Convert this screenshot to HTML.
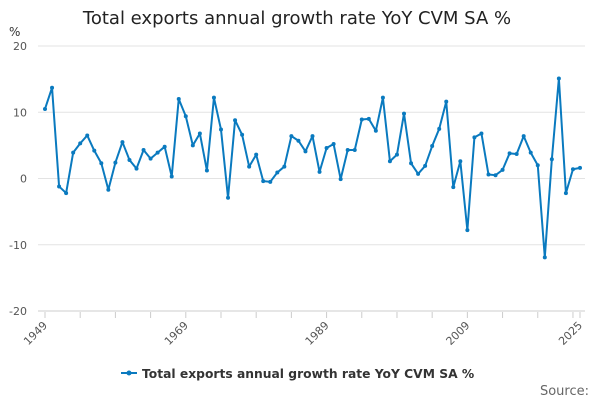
<!DOCTYPE html>
<html><head><meta charset="utf-8"><style>
body{margin:0;background:#fff;font-family:"DejaVu Sans",sans-serif}
</style></head><body>
<svg id="c" width="600" height="400" style="display:block;font-family:'DejaVu Sans',sans-serif">
<text x="297" y="24" text-anchor="middle" font-size="18" fill="#222">Total exports annual growth rate YoY CVM SA %</text>
<text x="9" y="36" font-size="12" fill="#333">%</text>
<g id="grid"></g><g id="xt"></g><g id="series"></g>
<g>
<line x1="121" y1="373" x2="137" y2="373" stroke="#0a7abf" stroke-width="2"/>
<circle cx="129" cy="373" r="2.5" fill="#0a7abf"/>
<text x="142" y="378" font-size="12.3" font-weight="bold" fill="#333">Total exports annual growth rate YoY CVM SA %</text>
</g>
<text x="589" y="395" text-anchor="end" font-size="13" fill="#666">Source:</text>
</svg>
<script>
const years=[];for(let y=1949;y<=2025;y++)years.push(y);
const values=[10.5,13.7,-1.2,-2.2,3.9,5.3,6.5,4.2,2.3,-1.7,2.4,5.5,2.8,1.5,4.3,3.0,3.9,4.8,0.3,12.0,9.4,5.0,6.8,1.2,12.2,7.4,-2.9,8.8,6.6,1.8,3.6,-0.4,-0.5,0.9,1.8,6.4,5.7,4.1,6.4,1.0,4.6,5.2,-0.1,4.3,4.3,8.9,9.0,7.2,12.2,2.6,3.6,9.8,2.3,0.7,1.9,4.9,7.5,11.6,-1.3,2.6,-7.8,6.2,6.8,0.6,0.5,1.3,3.8,3.7,6.4,3.9,2.0,-11.9,2.9,15.1,-2.2,1.4,1.6];
const yTicks=[20,10,0,-10,-20];
const xLabels=[1949,1969,1989,2009,2025];
const NS="http://www.w3.org/2000/svg";
const X=y=>45+(y-1949)*(580-45)/76;
const Y=v=>178.5-v*6.625;
function mk(t,a,p){const e=document.createElementNS(NS,t);for(const k in a)e.setAttribute(k,a[k]);p.appendChild(e);return e;}
const g=document.getElementById('grid');
yTicks.forEach(v=>{
 const l=mk('line',{x1:38,x2:585,y1:Y(v),y2:Y(v),stroke:v===-20?'#ccc':'#e3e3e3'},g);
 
 
 const t=mk('text',{x:27,y:Y(v)+4,'text-anchor':'end','font-size':11,fill:'#555'},g);
 
 
 t.textContent=v;
});
const xt=document.getElementById('xt');
const tickYears=[];for(let y=1949;y<=2024;y+=5)tickYears.push(y);tickYears.push(2025);
tickYears.forEach(y=>{const l=mk('line',{x1:X(y),x2:X(y),y1:312,y2:318,stroke:'#ccc'},xt);
 
 });
xLabels.forEach(y=>{const t=mk('text',{x:X(y)+3,y:326,'text-anchor':'end','font-size':11,fill:'#555',transform:`rotate(-45 ${X(y)+3} 326)`},xt);
 
 
 t.textContent=y;});
const s=document.getElementById('series');
const p=mk('polyline',{points:values.map((v,i)=>X(years[i])+','+Y(v)).join(' '),fill:'none',stroke:'#0a7abf','stroke-width':2,'stroke-linejoin':'round'},s);


values.forEach((v,i)=>{const c=mk('circle',{cx:X(years[i]),cy:Y(v),r:2,fill:'#0a7abf'},s);
 
 });
</script>
</body></html>
